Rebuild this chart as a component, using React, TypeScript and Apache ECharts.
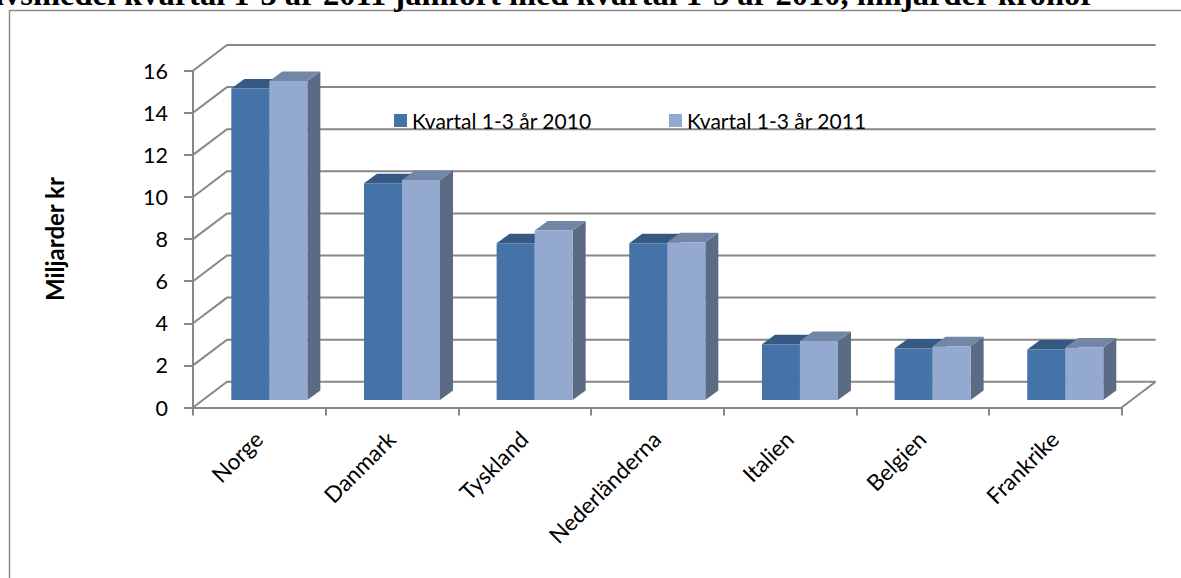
import React, { useEffect, useRef } from "react";
import * as echarts from "echarts";

const categories = ["Norge", "Danmark", "Tyskland", "Nederländerna", "Italien", "Belgien", "Frankrike"];
const seriesNames = ["Kvartal 1-3 år 2010", "Kvartal 1-3 år 2011"];
const values2010 = [14.8, 10.3, 7.45, 7.45, 2.65, 2.45, 2.4];
const values2011 = [15.15, 10.45, 8.05, 7.5, 2.8, 2.55, 2.5];
const yTicks = [0, 2, 4, 6, 8, 10, 12, 14, 16];
const titleText = "livsmedel kvartal 1-3 år 2011 jämfört med kvartal 1-3 år 2010, miljarder kronor";
const yAxisTitle = "Miljarder kr";

// 3D look (pixels)
const WALL_DX = 34;
const WALL_DY = -25.7;
const BAR_OFF_DX = 10;
const BAR_OFF_DY = -7.5;
const BAR_DDX = 13;
const BAR_DDY = -9.5;
const BAR_FRAC = 38 / 132.6;
const GRID_COLOR = "#878787";
const FONT = "Lato";

const barColors = [
  { front: "#4572A7", top: "#365983", side: "#2f4f75" },
  { front: "#93A9CF", top: "#7486A6", side: "#5C6B84" },
];

function makeBarRenderer(idx: number) {
  const c = barColors[idx];
  return (params: any, api: any) => {
    const i = api.value(0);
    const v = api.value(1);
    const top = api.coord([i, v]);
    const base = api.coord([i, 0]);
    const band = api.size([1, 0])[0];
    const bw = band * BAR_FRAC;
    const cx = top[0] + BAR_OFF_DX;
    const x0 = idx === 0 ? cx - bw : cx;
    const x1 = x0 + bw;
    const yt = top[1] + BAR_OFF_DY;
    const yb = base[1] + BAR_OFF_DY;
    return {
      type: "group",
      children: [
        {
          type: "polygon",
          shape: { points: [[x1, yt], [x1 + BAR_DDX, yt + BAR_DDY], [x1 + BAR_DDX, yb + BAR_DDY], [x1, yb]] },
          style: { fill: c.side },
        },
        {
          type: "polygon",
          shape: { points: [[x0, yt], [x1, yt], [x1 + BAR_DDX, yt + BAR_DDY], [x0 + BAR_DDX, yt + BAR_DDY]] },
          style: { fill: c.top },
        },
        {
          type: "rect",
          shape: { x: x0, y: yt, width: bw, height: yb - yt },
          style: { fill: c.front },
        },
      ],
    };
  };
}

function renderWall(params: any, api: any) {
  const v = api.value(1);
  const band = api.size([1, 0])[0];
  const pL = api.coord([0, v]);
  const pR = api.coord([categories.length - 1, v]);
  const xL = pL[0] - band / 2;
  const xR = pR[0] + band / 2;
  const y = pL[1];
  const children: any[] = [
    {
      type: "polyline",
      shape: { points: [[xL, y], [xL + WALL_DX, y + WALL_DY], [xR + WALL_DX, y + WALL_DY]] },
      style: { stroke: GRID_COLOR, lineWidth: 2, fill: "none" },
    },
  ];
  if (v === 0) {
    children.push({
      type: "line",
      shape: { x1: xR, y1: y, x2: xR + WALL_DX, y2: y + WALL_DY },
      style: { stroke: GRID_COLOR, lineWidth: 2 },
    });
  }
  return { type: "group", children };
}

export default function App() {
  const ref = useRef<HTMLDivElement>(null);
  useEffect(() => {
    if (!ref.current) return;
    const chart = echarts.init(ref.current, undefined, { renderer: "svg" });
    chart.setOption({
      animation: false,
      backgroundColor: "#ffffff",
      graphic: [
        {
          type: "rect",
          z: -10,
          shape: { x: 9.5, y: 10.5, width: 1400, height: 800 },
          style: { fill: "none", stroke: "#8a8a8a", lineWidth: 1.5 },
        },
        {
          type: "text",
          x: -14,
          y: -6,
          style: {
            text: titleText,
            font: 'bold 32.5px "Liberation Serif"',
            fill: "#000",
            textAlign: "left",
            textVerticalAlign: "middle",
          },
        },
      ],
      legend: [
        {
          data: [seriesNames[0]],
          left: 389,
          top: 105,
          icon: "rect",
          itemWidth: 13,
          itemHeight: 13,
          textStyle: { fontFamily: FONT, fontSize: 21, color: "#000" },
          selectedMode: false,
        },
        {
          data: [seriesNames[1]],
          left: 664,
          top: 105,
          icon: "rect",
          itemWidth: 13,
          itemHeight: 13,
          textStyle: { fontFamily: FONT, fontSize: 21, color: "#000" },
          selectedMode: false,
        },
      ],
      grid: {
        left: 193,
        top: 70.7,
        width: 928.6,
        height: 336.8,
        containLabel: false,
        outerBoundsMode: "none",
      },
      xAxis: {
        type: "category",
        data: categories,
        axisLine: { show: true, lineStyle: { color: GRID_COLOR, width: 2 } },
        axisTick: { show: true, length: 8, interval: 0, lineStyle: { color: GRID_COLOR, width: 2 } },
        axisLabel: {
          rotate: 45,
          interval: 0,
          margin: 27,
          padding: [0, 1, 0, 0],
          fontFamily: FONT,
          fontSize: 22.5,
          color: "#000",
        },
        splitLine: { show: false },
      },
      yAxis: {
        type: "value",
        min: 0,
        max: 16,
        interval: 2,
        name: yAxisTitle,
        nameLocation: "middle",
        nameRotate: 90,
        nameGap: 127,
        nameTextStyle: { fontFamily: FONT, fontSize: 24, fontWeight: "bold", color: "#000" },
        axisLine: { show: true, lineStyle: { color: GRID_COLOR, width: 2 } },
        axisTick: { show: true, length: 9, lineStyle: { color: GRID_COLOR, width: 2 } },
        axisLabel: { margin: 25, fontFamily: FONT, fontSize: 21.5, color: "#000" },
        splitLine: { show: false },
      },
      series: [
        {
          type: "custom",
          name: "wall",
          silent: true,
          renderItem: renderWall,
          encode: { x: 0, y: 1 },
          data: yTicks.map((t) => [0, t]),
          z: 1,
        },
        {
          type: "custom",
          name: seriesNames[0],
          itemStyle: { color: barColors[0].front },
          renderItem: makeBarRenderer(0),
          encode: { x: 0, y: 1 },
          data: values2010.map((v, i) => [i, v]),
          z: 2,
        },
        {
          type: "custom",
          name: seriesNames[1],
          itemStyle: { color: barColors[1].front },
          renderItem: makeBarRenderer(1),
          encode: { x: 0, y: 1 },
          data: values2011.map((v, i) => [i, v]),
          z: 3,
        },
      ],
    });
    return () => chart.dispose();
  }, []);
  return <div ref={ref} style={{ position: "absolute", left: 0, top: 0, width: 1181, height: 578 }} />;
}
